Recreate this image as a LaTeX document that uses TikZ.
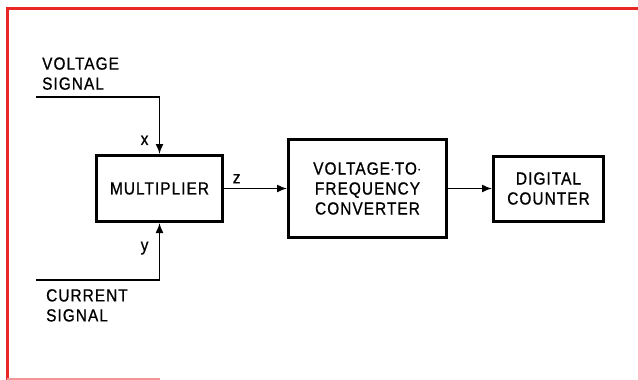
\documentclass[tikz,border=0pt]{standalone}
\usepackage{fontspec}
\setmainfont[FakeBold=0.8, FakeStretch=0.88, LetterSpace=6]{Liberation Sans}
\usetikzlibrary{arrows.meta,positioning}
\definecolor{framered}{RGB}{232,40,36}
\definecolor{framepink}{RGB}{242,150,150}

\begin{document}
\begin{tikzpicture}[
    x=1pt, y=-1pt,
    node distance=65pt,
    font=\fontsize{17.5}{20}\selectfont,
    blk/.style={rectangle, draw, line width=3pt, align=center},
    sig/.style={line width=1.5pt},
    flow/.style={sig, -{Latex[length=10pt,width=8pt]}}
]
    \useasboundingbox (0,0) rectangle (638,380);

    % Frame
    \draw[framered, line width=3pt] (638,8) -- (7,8) -- (7,380);
    \draw[framepink, line width=1.5pt] (7,379) -- (160,379);

    % Blocks
    \node[blk, minimum width=126pt, minimum height=66pt] (mult) at (159.5,188.5) {MULTIPLIER};
    \node[blk, minimum width=158pt, minimum height=98pt, right=63pt of mult] (vfc)
        {VOLTAGE$\cdot$TO$\cdot$\\FREQUENCY\\CONVERTER};
    \node[blk, minimum width=110pt, minimum height=65pt, right=44pt of vfc] (cnt)
        {DIGITAL\\COUNTER};

    % Inputs
    \coordinate (vin) at (36,97);
    \coordinate (cin) at (36,280);
    \node[anchor=south west, align=left, inner sep=0pt] (vlab) at (42,90) {VOLTAGE\\SIGNAL};
    \node[anchor=north west, align=left, inner sep=0pt] (clab) at (46,289) {CURRENT\\SIGNAL};

    \draw[flow] (vin) -| node[pos=0.88, left=7pt] {x} (mult.north);
    \draw[flow] (cin) -| node[pos=0.78, left=7pt] {y} (mult.south);

    % Forward path
    \draw[flow] (mult.east) -- node[above=1pt, pos=0.2] {z} (vfc.west);
    \draw[flow] (vfc.east) -- (cnt.west);
\end{tikzpicture}
\end{document}
